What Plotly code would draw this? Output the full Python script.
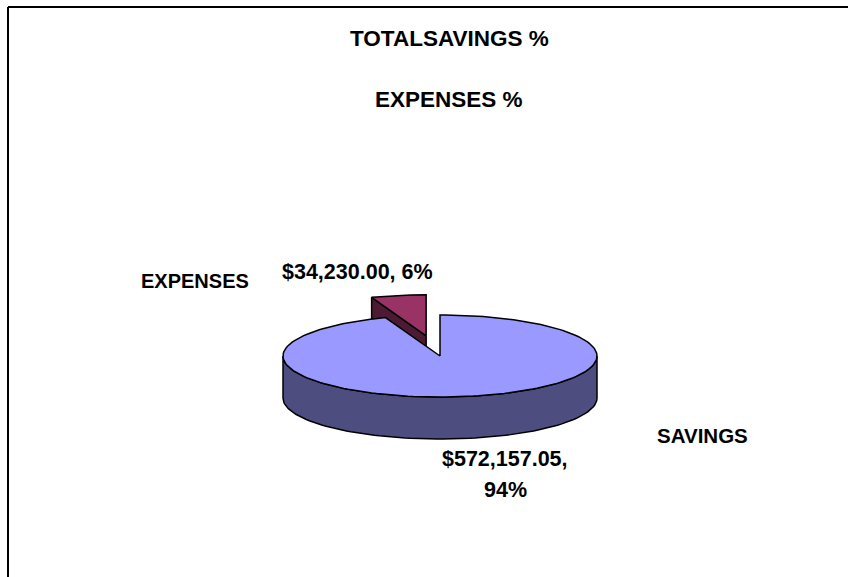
import math
import plotly.graph_objects as go

# ---- data ----
categories = ["SAVINGS", "EXPENSES"]
values = [572157.05, 34230.00]
explode = [0.0, 0.5]
top_colors = ["#9999FF", "#993366"]
side_colors = ["#4D4D80", "#4D1A33"]
title_lines = ["TOTALSAVINGS %", "EXPENSES %"]

# ---- geometry (page pixel space) ----
W, H = 848, 577
cx, cy = 440.0, 356.0
rx, ry = 157.0, 41.0
depth = 42.0
FONT = "Arial, 'Liberation Sans', sans-serif"

total = sum(values)
fracs = [v / total for v in values]


def pt(theta_deg, off, r=1.0, dz=0.0):
    t = math.radians(theta_deg)
    return (cx + off[0] + rx * r * math.sin(t), cy + off[1] - ry * r * math.cos(t) + dz)


def arc(a0, a1, off, dz=0.0, n=None):
    if n is None:
        n = max(2, int(abs(a1 - a0) / 2) + 2)
    return [pt(a0 + (a1 - a0) * i / (n - 1), off, 1.0, dz) for i in range(n)]


fig = go.Figure()


def poly(points, fill):
    xs = [p[0] for p in points] + [points[0][0]]
    ys = [p[1] for p in points] + [points[0][1]]
    fig.add_trace(go.Scatter(x=xs, y=ys, mode="lines", fill="toself",
                             fillcolor=fill, line=dict(color="black", width=1.5),
                             hoverinfo="skip", showlegend=False))


# slice angles (clockwise from 12 o'clock)
slices = []
start = 0.0
for i, f in enumerate(fracs):
    end = start + 360.0 * f
    mid = (start + end) / 2
    e = explode[i]
    off = (rx * e * math.sin(math.radians(mid)), -ry * e * math.cos(math.radians(mid)))
    slices.append(dict(i=i, start=start, end=end, mid=mid, off=off))
    start = end

# draw back slices first
order = sorted(slices, key=lambda s: -math.cos(math.radians(s["mid"])))
for s in order:
    i, a0, a1, off = s["i"], s["start"], s["end"], s["off"]
    c0 = pt(0, off, r=0.0)
    c0b = (c0[0], c0[1] + depth)
    # radial faces
    if math.sin(math.radians(a0)) < -1e-9:
        p = pt(a0, off)
        poly([c0, p, (p[0], p[1] + depth), c0b], side_colors[i])
    if math.sin(math.radians(a1)) > 1e-9:
        p = pt(a1, off)
        poly([c0, p, (p[0], p[1] + depth), c0b], side_colors[i])
    # outer side (front half 90..270)
    lo, hi = max(a0, 90.0), min(a1, 270.0)
    if hi > lo:
        topa = arc(lo, hi, off)
        bota = arc(hi, lo, off, dz=depth)
        poly(topa + bota, side_colors[i])
    # top face
    poly([c0] + arc(a0, a1, off), top_colors[i])

# ---- text ----
def label(txt, x, y, size):
    fig.add_annotation(x=x, y=y, xref="x", yref="y", text=txt, showarrow=False,
                       xanchor="center", yanchor="middle",
                       font=dict(family=FONT, size=size, color="black", weight="bold"))

label(title_lines[0], 449, 38, 22.5)
label(title_lines[1], 449, 99, 22.5)

pcts = [round(100 * f) for f in fracs]
label(categories[1], 195, 281, 20)
label(f"${values[1]:,.2f}, {pcts[1]}%", 357, 272, 21.5)
label(categories[0], 702, 435, 20.5)
label(f"${values[0]:,.2f},", 505, 459, 21.5)
label(f"{pcts[0]}%", 505, 490, 21.5)

# ---- frame (top and left border) ----
fig.add_shape(type="line", x0=8, x1=W, y0=7, y1=7, xref="x", yref="y",
              line=dict(color="black", width=2))
fig.add_shape(type="line", x0=8, x1=8, y0=7, y1=H, xref="x", yref="y",
              line=dict(color="black", width=2))

fig.update_layout(width=W, height=H, margin=dict(l=0, r=0, t=0, b=0),
                  paper_bgcolor="white", plot_bgcolor="white",
                  xaxis=dict(range=[0, W], visible=False, fixedrange=True),
                  yaxis=dict(range=[H, 0], visible=False, fixedrange=True),
                  showlegend=False)

fig.write_html("out.html", config={"displayModeBar": False},
               post_script="document.body.style.margin='0';document.body.style.overflow='hidden';")
